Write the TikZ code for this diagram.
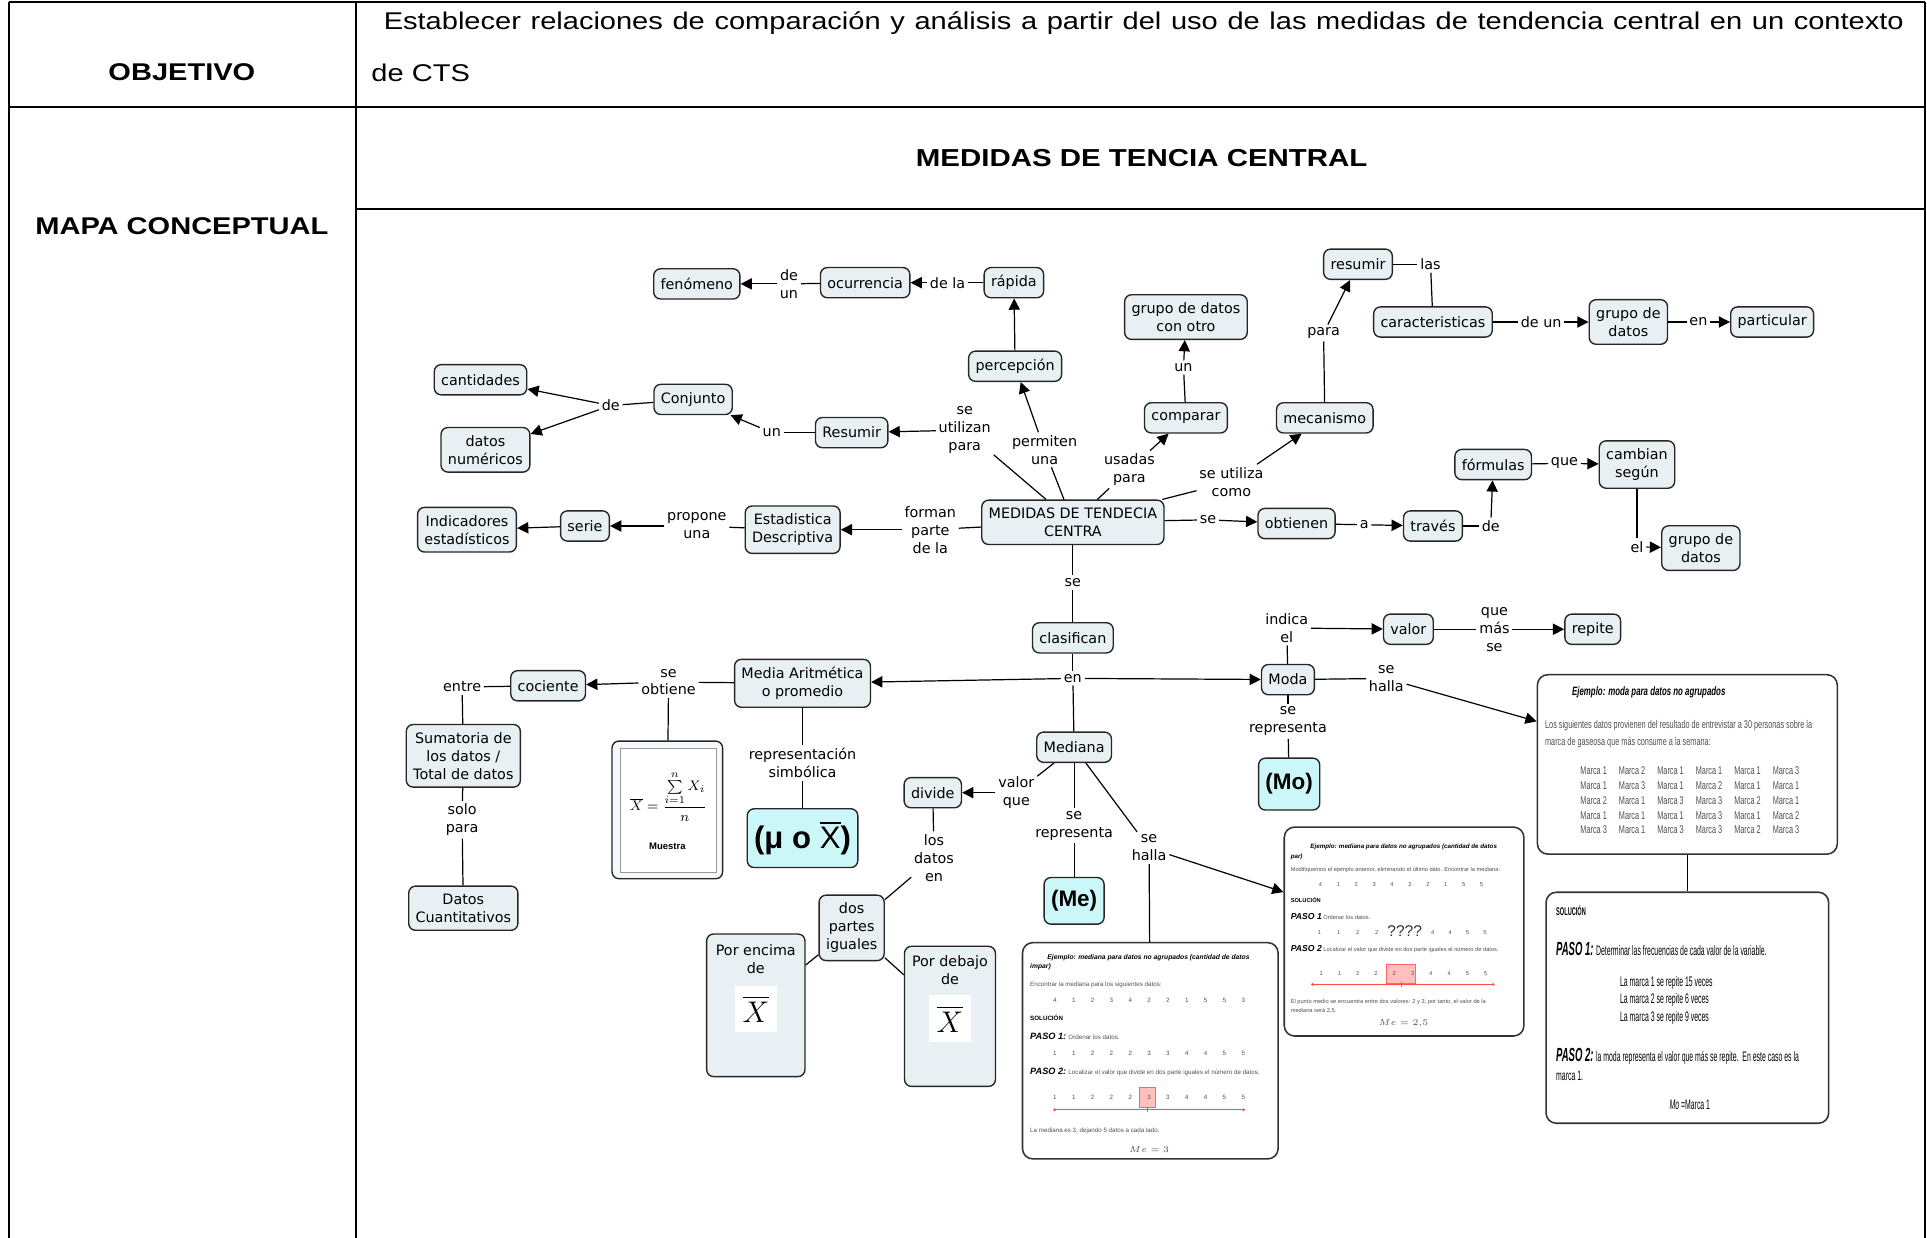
\documentclass[tikz,border=0pt]{standalone}
\usepackage{fontspec}
\usepackage{amsmath}
\setmainfont{DejaVu Sans}
\newfontfamily\tabfont{Liberation Sans}
\newfontfamily\narrowfont[FakeStretch=0.65]{Liberation Sans}
\newfontfamily\condfont[FakeStretch=0.5]{Liberation Sans}
\usetikzlibrary{arrows.meta,fit}

\definecolor{conceptfill}{RGB}{232,240,244}
\definecolor{symbolfill}{RGB}{204,247,249}
\definecolor{exgray}{RGB}{80,80,80}

\newcommand{\mapfont}{\fontsize{8.3}{10.4}\selectfont}
\newcommand{\wide}[1]{\scalebox{1.2}[1]{#1}}

\tikzset{
  concept/.style={draw=black!85, fill=conceptfill, rounded corners=4pt, line width=0.8pt,
    align=center, inner xsep=4pt, inner ysep=4.5pt, minimum height=17.5pt, font=\mapfont},
  linkword/.style={align=center, inner sep=1.5pt, font=\mapfont},
  link/.style={line width=0.7pt},
  arrowlink/.style={link, -{Triangle[length=6.5pt,width=6.5pt]}},
  symbolbox/.style={concept, fill=symbolfill, font=\tabfont\bfseries\fontsize{13}{13}\selectfont},
  examplebox/.style={draw=black!80, fill=white, rounded corners=6pt, line width=0.9pt, inner sep=0pt},
  exline/.style={anchor=west, inner sep=0pt, text=exgray, align=left},
  hilite/.style={draw=red!60, fill=red!25, inner sep=0pt},
  redrule/.style={draw=red!70, line width=0.6pt},
  tableline/.style={line width=1.2pt},
}

\begin{document}
\begin{tikzpicture}[x=0.025cm, y=-0.025cm]
\useasboundingbox (0,0) rectangle (1568,1007);

% tabla
\draw[tableline] (7,1.5) -- (1566,1.5);
\draw[tableline] (7,1.5) -- (7,1007);
\draw[tableline] (290,1.5) -- (290,1007);
\draw[tableline] (1566,1.5) -- (1566,1007);
\draw[tableline] (7,87) -- (1566,87);
\draw[tableline] (290,170) -- (1566,170);

\node[font=\tabfont\bfseries\fontsize{14}{16}\selectfont] (objetivo) at (148,59) {\wide{OBJETIVO}};
\node[font=\tabfont\bfseries\fontsize{14}{16}\selectfont] (mapa) at (148,184) {\wide{MAPA CONCEPTUAL}};
\node[anchor=west, inner sep=0pt, font=\tabfont\fontsize{14}{16}\selectfont] (obj1) at (312,19)
  {\wide{\makebox[733pt][s]{Establecer relaciones de comparación y análisis a partir del uso de las medidas de tendencia central en un contexto}}};
\node[anchor=west, inner sep=0pt, font=\tabfont\fontsize{14}{16}\selectfont] (obj2) at (302,59) {\wide{de CTS}};
\node[font=\tabfont\bfseries\fontsize{14.2}{17}\selectfont] (titulo) at (929,129) {\wide{MEDIDAS DE TENCIA CENTRAL}};

% conceptos superiores
\node[concept] (fenomeno) at (567,231) {fenómeno};
\node[linkword] (deun1) at (642,231) {de\\un};
\node[concept] (ocurrencia) at (704,230) {ocurrencia};
\node[linkword] (dela) at (771,230) {de la};
\node[concept] (rapida) at (825,230) {rápida};
\node[concept] (percepcion) at (826,298) {percepción};
\node[linkword] (permiten) at (850,366) {permiten\\una};
\node[concept] (medidas) at (873,425) {MEDIDAS DE TENDECIA\\CENTRA};
\node[linkword] (utilizan) at (785,350) {se\\utilizan\\para};
\node[concept] (resumir) at (693,352) {Resumir};
\node[linkword] (un1) at (628,352) {un};
\node[concept] (conjunto) at (564,325) {Conjunto};
\node[linkword] (de1) at (497,330) {de};
\node[concept] (cantidades) at (391,309) {cantidades};
\node[concept] (numericos) at (395,366) {datos\\numéricos};
\node[concept] (estadistica) at (645,431) {Estadistica\\Descriptiva};
\node[linkword] (forman) at (757,431) {forman\\parte\\de la};
\node[linkword] (propone) at (567,428) {propone\\una};
\node[concept] (serie) at (476,428) {serie};
\node[concept] (indicadores) at (380,431) {Indicadores\\estadísticos};

\node[concept] (otro) at (965,258) {grupo de datos\\con otro};
\node[linkword] (un2) at (963,299) {un};
\node[concept] (comparar) at (965,340) {comparar};
\node[linkword] (usadas) at (919,382) {usadas\\para};
\node[concept] (mecanismo) at (1078,340) {mecanismo};
\node[linkword] (utiliza) at (1002,392) {se utiliza\\como};
\node[linkword] (para1) at (1077,271) {para};
\node[concept] (resumir2) at (1105,215) {resumir};
\node[linkword] (las) at (1164,215) {las};
\node[concept] (caract) at (1166,262) {caracteristicas};
\node[linkword] (deun2) at (1254,262) {de un};
\node[concept] (grupo1) at (1325,262) {grupo de\\datos};
\node[linkword] (en1) at (1382,262) {en};
\node[concept] (particular) at (1442,262) {particular};

\node[linkword] (se1) at (983,423) {se};
\node[concept] (obtienen) at (1055,426) {obtienen};
\node[linkword] (a1) at (1110,427) {a};
\node[concept] (traves) at (1166,428) {través};
\node[linkword] (de2) at (1213,428) {de};
\node[concept] (formulas) at (1215,378) {fórmulas};
\node[linkword] (que1) at (1273,377) {que};
\node[concept] (cambian) at (1332,378) {cambian\\según};
\node[linkword] (el1) at (1332,445) {el};
\node[concept] (grupo2) at (1384,446) {grupo de\\datos};

% clasificacion
\node[linkword] (se2) at (873,474) {se};
\node[concept] (clasifican) at (873,519) {clasifican};
\node[linkword] (en2) at (873,552) {en};

% media
\node[concept] (media) at (653,556) {Media Aritmética\\o promedio};
\node[linkword] (obtiene) at (544,555) {se\\obtiene};
\node[concept] (cociente) at (446,558) {cociente};
\node[linkword] (entre) at (376,559) {entre};
\node[concept] (sumatoria) at (377,615) {Sumatoria de\\los datos /\\Total de datos};
\node[linkword] (solopara) at (376,667) {solo\\para};
\node[concept] (cuantitativos) at (377,739) {Datos\\Cuantitativos};
\node[concept, fill=white!60!conceptfill, fit={(498,603) (588,715)}, inner sep=0pt] (formula) {};
\node[draw=black!40, fill=white, line width=0.8pt, fit={(505,609) (583,710)}, inner sep=0pt] (formulaimg) {};
\node[font=\fontsize{8}{10}\selectfont] (formulatex) at (544,648) {$\overline{X}=\dfrac{\sum\limits_{i=1}^{n}X_i}{n}$};
\node[font=\tabfont\bfseries\fontsize{5.5}{6}\selectfont] (muestra) at (543,689) {Muestra};
\node[linkword] (simbolica) at (653,621) {representación\\simbólica};
\node[symbolbox, minimum width=63pt, minimum height=34pt, font=\tabfont\bfseries\fontsize{18}{18}\selectfont] (mux) at (653,682) {(μ o $\overline{\mbox{\mdseries X}}$)};

% moda
\node[concept] (moda) at (1048,553) {Moda};
\node[linkword] (indica) at (1047,511) {indica\\el};
\node[concept] (valor) at (1146,512) {valor};
\node[linkword] (quemas) at (1216,512) {que\\más\\se};
\node[concept] (repite) at (1296,512) {repite};
\node[linkword] (halla1) at (1128,552) {se\\halla};
\node[linkword] (representa1) at (1048,587) {se\\representa};
\node[symbolbox, minimum width=34pt, minimum height=30pt] (mo) at (1049,638) {(Mo)};

% mediana
\node[concept] (mediana) at (874,608) {Mediana};
\node[linkword] (valorque) at (827,645) {valor\\que};
\node[concept] (divide) at (759,645) {divide};
\node[linkword] (losdatos) at (760,698) {los\\datos\\en};
\node[concept] (dospartes) at (693,755) {dos\\partes\\iguales};
\node[concept, fit={(575,760) (655,876)}, inner sep=0pt] (encima) {};
\node[linkword, anchor=north] (encimatxt) at (615,766) {Por encima\\de};
\node[fill=white, minimum width=24pt, minimum height=27pt, inner sep=0pt, font=\fontsize{18}{18}\selectfont] (encimax) at (615,821) {$\overline{X}$};
\node[concept, fit={(736,770) (810,884)}, inner sep=0pt] (debajo) {};
\node[linkword, anchor=north] (debajotxt) at (773,775) {Por debajo\\de};
\node[fill=white, minimum width=24pt, minimum height=27pt, inner sep=0pt, font=\fontsize{18}{18}\selectfont] (debajox) at (773,829) {$\overline{X}$};
\node[linkword] (representa2) at (874,672) {se\\representa};
\node[symbolbox, minimum width=34pt, minimum height=27pt] (me) at (874,733) {(Me)};
\node[linkword] (halla2) at (935,690) {se\\halla};

% ejemplo moda
\node[examplebox, fit={(1251,549) (1495,695)}] (modaej) {};
\node[exline, text=black, font=\narrowfont\bfseries\itshape\fontsize{7}{8}\selectfont] (modaej-t) at (1279,563) {Ejemplo: moda para datos no agrupados};
\node[exline, font=\narrowfont\fontsize{6.5}{9.9}\selectfont] (modaej-p) at (1257,597) {Los siguientes datos provienen del resultado de entrevistar a 30 personas sobre la\\marca de gaseosa que más consume a la semana:};
\node[inner sep=0pt, text=exgray, font=\narrowfont\fontsize{6.5}{8.6}\selectfont] (modaej-tab) at (1375,652) {%
  \setlength{\tabcolsep}{3.5pt}\renewcommand{\arraystretch}{1}%
  \begin{tabular}{@{}llllll@{}}
  Marca 1 & Marca 2 & Marca 1 & Marca 1 & Marca 1 & Marca 3\\
  Marca 1 & Marca 3 & Marca 1 & Marca 2 & Marca 1 & Marca 1\\
  Marca 2 & Marca 1 & Marca 3 & Marca 3 & Marca 2 & Marca 1\\
  Marca 1 & Marca 1 & Marca 1 & Marca 3 & Marca 1 & Marca 2\\
  Marca 3 & Marca 1 & Marca 3 & Marca 3 & Marca 2 & Marca 3
  \end{tabular}};

% solucion moda
\node[examplebox, fit={(1258,726) (1488,914)}] (solucion) {};
\node[exline, text=black, font=\condfont\bfseries\fontsize{6.5}{7}\selectfont] (sol-t) at (1266,741) {SOLUCIÓN};
\node[exline, text=black, font=\condfont\fontsize{8}{9}\selectfont] (sol-p1) at (1266,772) {{\bfseries\itshape\fontsize{11}{12}\selectfont PASO 1:} Determinar las frecuencias de cada valor de la variable.};
\node[exline, text=black, font=\condfont\fontsize{8}{9.9}\selectfont] (sol-m) at (1318,814) {La marca 1 se repite 15 veces\\La marca 2 se repite 6 veces\\La marca 3 se repite 9 veces};
\node[exline, text=black, font=\condfont\fontsize{8}{11}\selectfont] (sol-p2) at (1266,866) {{\bfseries\itshape\fontsize{11}{12}\selectfont PASO 2:} la moda representa el valor que más se repite.\ \ En este caso es la\\marca 1.};
\node[text=black, font=\condfont\fontsize{8}{9}\selectfont] (sol-mo) at (1375,899) {{\itshape Mo} =Marca 1};

% ejemplo mediana par
\node[examplebox, fit={(1045,673) (1240,843)}] (parej) {};
\node[exline, text=black, font=\tabfont\bfseries\itshape\fontsize{3.6}{4}\selectfont] (par-t) at (1066,689) {Ejemplo: mediana para datos no agrupados (cantidad de datos};
\node[exline, text=black, font=\tabfont\bfseries\itshape\fontsize{3.6}{4}\selectfont] (par-t2) at (1050,697) {par)};
\node[exline, font=\tabfont\fontsize{3.3}{4}\selectfont] (par-e) at (1050,708) {Modifiquemos el ejemplo anterior, eliminando el último dato. Encontrar la mediana:};
\node[text=exgray, inner sep=0pt, font=\tabfont\fontsize{3.3}{4}\selectfont] (par-r1) at (1140,720) {\makebox[95pt][s]{4 1 2 3 4 2 2 1 5 5}};
\node[exline, text=black, font=\tabfont\bfseries\fontsize{3.3}{4}\selectfont] (par-s) at (1050,732) {SOLUCIÓN};
\node[exline, font=\tabfont\fontsize{3.3}{4}\selectfont] (par-p1) at (1050,746) {{\color{black}\bfseries\itshape\fontsize{5}{5}\selectfont PASO 1} Ordenar los datos.};
\node[text=exgray, inner sep=0pt, font=\tabfont\fontsize{3.3}{4}\selectfont] (par-r2a) at (1097,759) {\makebox[35pt][s]{1 1 2 2}};
\node[text=black!80, inner sep=0pt, font=\tabfont\fontsize{9}{9}\selectfont] (par-q) at (1143,758) {????};
\node[text=exgray, inner sep=0pt, font=\tabfont\fontsize{3.3}{4}\selectfont] (par-r2b) at (1187,759) {\makebox[32pt][s]{4 4 5 5}};
\node[exline, font=\tabfont\fontsize{3.3}{4}\selectfont] (par-p2) at (1050,772) {{\color{black}\bfseries\itshape\fontsize{5}{5}\selectfont PASO 2} Localizar el valor que divide en dos parte iguales el número de datos.};
\node[hilite, fit={(1128,785) (1152,800)}] (par-hl) {};
\node[text=exgray, inner sep=0pt, font=\tabfont\fontsize{3.3}{4}\selectfont] (par-r3) at (1142,792) {\makebox[97pt][s]{1 1 2 2 2 3 4 4 5 5}};
\draw[redrule, {Circle[length=1.5pt]}-{Circle[length=1.5pt]}] (1067,801) -- (1216,801);
\draw[redrule] (1140,799) -- (1140,803);
\node[exline, font=\tabfont\fontsize{3.3}{5}\selectfont] (par-c) at (1050,819) {El punto medio se encuentra entre dos valores: 2 y 3, por tanto, el valor de la\\mediana será 2,5.};
\node[text=exgray, inner sep=0pt, font=\fontsize{4}{5}\selectfont] (par-me) at (1142,833) {$Me=2{,}5$};

% ejemplo mediana impar
\node[examplebox, fit={(832,767) (1040,943)}] (imparej) {};
\node[exline, text=black, font=\tabfont\bfseries\itshape\fontsize{3.9}{4.5}\selectfont] (impar-t) at (852,779) {Ejemplo: mediana para datos no agrupados (cantidad de datos};
\node[exline, text=black, font=\tabfont\bfseries\itshape\fontsize{3.9}{4.5}\selectfont] (impar-t2) at (838,787) {impar)};
\node[exline, font=\tabfont\fontsize{3.6}{4}\selectfont] (impar-e) at (838,801) {Encontrar la mediana para los siguientes datos:};
\node[text=exgray, inner sep=0pt, font=\tabfont\fontsize{3.6}{4}\selectfont] (impar-r1) at (935,814) {\makebox[111pt][s]{4 1 2 3 4 2 2 1 5 5 3}};
\node[exline, text=black, font=\tabfont\bfseries\fontsize{3.6}{4}\selectfont] (impar-s) at (838,828) {SOLUCIÓN};
\node[exline, font=\tabfont\fontsize{3.6}{4}\selectfont] (impar-p1) at (838,843) {{\color{black}\bfseries\itshape\fontsize{5.3}{5}\selectfont PASO 1:} Ordenar los datos.};
\node[text=exgray, inner sep=0pt, font=\tabfont\fontsize{3.6}{4}\selectfont] (impar-r2) at (935,857) {\makebox[111pt][s]{1 1 2 2 2 3 3 4 4 5 5}};
\node[exline, font=\tabfont\fontsize{3.6}{4}\selectfont] (impar-p2) at (838,872) {{\color{black}\bfseries\itshape\fontsize{5.3}{5}\selectfont PASO 2:} Localizar el valor que divide en dos parte iguales el número de datos.};
\node[hilite, fit={(927,885) (940,901)}] (impar-hl) {};
\node[text=exgray, inner sep=0pt, font=\tabfont\fontsize{3.6}{4}\selectfont] (impar-r3) at (935,893) {\makebox[111pt][s]{1 1 2 2 2 3 3 4 4 5 5}};
\draw[redrule, {Circle[length=1.5pt]}-{Circle[length=1.5pt]}] (857,903) -- (1013,903);
\draw[redrule] (934,901) -- (934,905);
\node[exline, font=\tabfont\fontsize{3.6}{4}\selectfont] (impar-c) at (838,920) {La mediana es 3, dejando 5 datos a cada lado.};
\node[text=exgray, inner sep=0pt, font=\fontsize{4.3}{5}\selectfont] (impar-me) at (935,935) {$Me=3$};

% conectores
\draw[link] (rapida) -- (dela);
\draw[arrowlink] (dela) -- (ocurrencia);
\draw[link] (ocurrencia) -- (deun1);
\draw[arrowlink] (deun1) -- (fenomeno);
\draw[arrowlink] (percepcion) -- (rapida);
\draw[link] (medidas) -- (permiten);
\draw[arrowlink] (permiten) -- (percepcion);
\draw[link] (medidas) -- (utilizan);
\draw[arrowlink] (utilizan) -- (resumir);
\draw[link] (resumir) -- (un1);
\draw[arrowlink] (un1) -- (conjunto);
\draw[link] (conjunto) -- (de1);
\draw[arrowlink] (de1) -- (cantidades);
\draw[arrowlink] (de1) -- (numericos);
\draw[link] (medidas) -- (forman);
\draw[arrowlink] (forman) -- (estadistica);
\draw[link] (estadistica) -- (propone);
\draw[arrowlink] (propone) -- (serie);
\draw[arrowlink] (serie) -- (indicadores);

\draw[link] (medidas) -- (usadas);
\draw[arrowlink] (usadas) -- (comparar);
\draw[link] (comparar) -- (un2);
\draw[arrowlink] (un2) -- (otro);
\draw[link] (medidas) -- (utiliza);
\draw[arrowlink] (utiliza) -- (mecanismo);
\draw[link] (mecanismo) -- (para1);
\draw[arrowlink] (para1) -- (resumir2);
\draw[link] (resumir2) -- (las);
\draw[link] (las) -- (caract);
\draw[link] (caract) -- (deun2);
\draw[arrowlink] (deun2) -- (grupo1);
\draw[link] (grupo1) -- (en1);
\draw[arrowlink] (en1) -- (particular);
\draw[link] (medidas) -- (se1);
\draw[arrowlink] (se1) -- (obtienen);
\draw[link] (obtienen) -- (a1);
\draw[arrowlink] (a1) -- (traves);
\draw[link] (traves) -- (de2);
\draw[arrowlink] (de2) -- (formulas);
\draw[link] (formulas) -- (que1);
\draw[arrowlink] (que1) -- (cambian);
\draw[link] (cambian) -- (el1);
\draw[arrowlink] (el1) -- (grupo2);

\draw[link] (medidas) -- (se2);
\draw[link] (se2) -- (clasifican);
\draw[link] (clasifican) -- (en2);
\draw[arrowlink] (en2) -- (media);
\draw[arrowlink] (en2) -- (moda);
\draw[link] (en2) -- (mediana);

\draw[link] (media) -- (obtiene);
\draw[arrowlink] (obtiene) -- (cociente);
\draw[link] (obtiene) -- (formula);
\draw[link] (cociente) -- (entre);
\draw[link] (entre) -- (sumatoria);
\draw[link] (sumatoria) -- (solopara);
\draw[link] (solopara) -- (cuantitativos);
\draw[link] (media) -- (simbolica);
\draw[link] (simbolica) -- (mux);

\draw[link] (moda) -- (indica);
\draw[arrowlink] (indica) -- (valor);
\draw[link] (valor) -- (quemas);
\draw[arrowlink] (quemas) -- (repite);
\draw[link] (moda) -- (halla1);
\draw[arrowlink] (halla1) -- (modaej);
\draw[link] (moda) -- (representa1);
\draw[link] (representa1) -- (mo);
\draw[link] (modaej) -- (solucion);

\draw[link] (mediana) -- (valorque);
\draw[arrowlink] (valorque) -- (divide);
\draw[link] (divide) -- (losdatos);
\draw[link] (losdatos) -- (dospartes);
\draw[link] (dospartes) -- (encima);
\draw[link] (dospartes) -- (debajo);
\draw[link] (mediana) -- (representa2);
\draw[link] (representa2) -- (me);
\draw[link] (mediana) -- (halla2);
\draw[arrowlink] (halla2) -- (parej);
\draw[link] (halla2) -- (imparej);
\end{tikzpicture}
\end{document}
